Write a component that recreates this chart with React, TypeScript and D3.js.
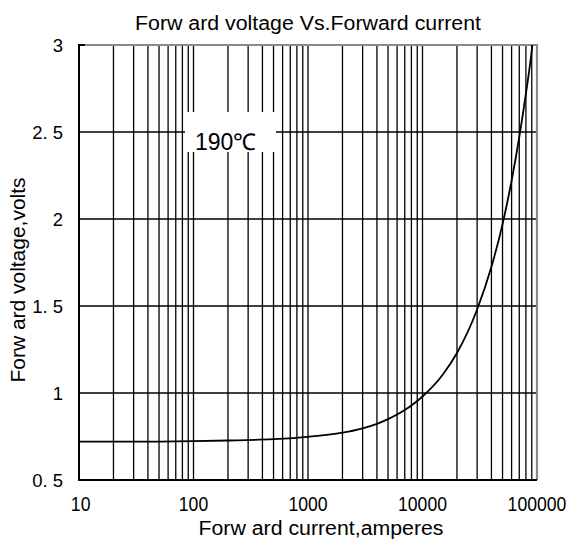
import React, { useRef, useEffect } from "react";
import * as d3 from "d3";

// forward current (A) vs forward voltage (V)
const currents = [
  10, 20, 50, 100, 200, 500, 1000, 2000, 3000, 4000, 5000, 6000, 7000, 8000,
  10000, 15000, 20000, 30000, 40000, 50000, 60000, 70000, 80000, 90000, 91000,
];
const voltages = [
  0.72, 0.72, 0.721, 0.723, 0.727, 0.735, 0.748, 0.772, 0.797, 0.823, 0.85,
  0.876, 0.902, 0.928, 0.98, 1.105, 1.23, 1.48, 1.725, 1.97, 2.22, 2.47, 2.72,
  2.97, 3.0,
];
const xTickValues = [10, 100, 1000, 10000, 100000];
const xTickLabels = ["10", "100", "1000", "10000", "100000"];
const yTickValues = [0.5, 1, 1.5, 2, 2.5, 3];
const yTickLabels = ["0. 5", "1", "1. 5", "2", "2. 5", "3"];
const title = "Forw ard voltage Vs.Forward current";
const xTitle = "Forw ard current,amperes";
const yTitle = "Forw ard voltage,volts";
const annotation = "190℃";

const WIDTH = 570;
const HEIGHT = 546;
const FONT = "'Liberation Sans', Arial, sans-serif";

export default function App() {
  const svgRef = useRef<SVGSVGElement>(null);

  useEffect(() => {
    if (!svgRef.current) return;
    const svg = d3.select(svgRef.current);
    svg.selectAll("*").remove();

    const left = 79;
    const right = 537;
    const top = 45;
    const bottom = 480;

    const x = d3.scaleLog().domain([10, 100000]).range([left, right]);
    const y = d3.scaleLinear().domain([0.5, 3]).range([bottom, top]);

    svg
      .append("rect")
      .attr("width", WIDTH)
      .attr("height", HEIGHT)
      .attr("fill", "#fff");

    // vertical grid (1..9 per decade)
    const minor: number[] = [];
    for (let d = 10; d < 100000; d *= 10) {
      for (let k = 1; k <= 9; k++) minor.push(d * k);
    }
    svg
      .append("g")
      .selectAll("line")
      .data(minor.filter((v) => v > 10))
      .join("line")
      .attr("x1", (d) => x(d))
      .attr("x2", (d) => x(d))
      .attr("y1", top)
      .attr("y2", bottom)
      .attr("stroke", "#000")
      .attr("stroke-width", 1.3);

    // horizontal grid
    svg
      .append("g")
      .selectAll("line")
      .data(yTickValues.filter((v) => v > 0.5 && v < 3))
      .join("line")
      .attr("x1", left)
      .attr("x2", right)
      .attr("y1", (d) => y(d))
      .attr("y2", (d) => y(d))
      .attr("stroke", "#000")
      .attr("stroke-width", 1.3);

    // frame: top/right grey, left/bottom black
    svg
      .append("path")
      .attr("d", `M${left},${top}H${right}V${bottom}`)
      .attr("fill", "none")
      .attr("stroke", "#8a8a8a")
      .attr("stroke-width", 2.2);
    svg
      .append("path")
      .attr("d", `M${left + 6},${top}H${left}V${bottom}H${right}`)
      .attr("fill", "none")
      .attr("stroke", "#000")
      .attr("stroke-width", 2);

    // curve
    const pts = currents.map((c, i) => [c, voltages[i]] as [number, number]);
    const line = d3
      .line<[number, number]>()
      .x((d) => x(d[0]))
      .y((d) => y(d[1]))
      .curve(d3.curveMonotoneX);
    svg
      .append("path")
      .attr("d", line(pts))
      .attr("fill", "none")
      .attr("stroke", "#000")
      .attr("stroke-width", 1.8);

    // annotation box
    svg
      .append("rect")
      .attr("x", 185)
      .attr("y", 112)
      .attr("width", 91)
      .attr("height", 40)
      .attr("fill", "#fff");
    svg
      .append("text")
      .attr("x", 195)
      .attr("y", 150)
      .style("font-family", FONT)
      .style("font-size", "23px")
      .text(annotation);

    // y tick labels
    svg
      .append("g")
      .selectAll("text")
      .data(yTickValues)
      .join("text")
      .attr("x", 63)
      .attr("y", (d) => y(d) + 7)
      .attr("text-anchor", "end")
      .style("font-family", FONT)
      .style("font-size", "18.5px")
      .text((_, i) => yTickLabels[i]);

    // x tick labels
    svg
      .append("g")
      .selectAll("text")
      .data(xTickValues)
      .join("text")
      .attr("x", (d) => x(d) + (d === 10 ? 2 : 0))
      .attr("y", 511)
      .attr("text-anchor", "middle")
      .attr("transform", (d) => `translate(${x(d)},0) scale(0.84,1) translate(${-x(d)},0)`)
      .style("font-family", FONT)
      .style("font-size", "21px")
      .text((_, i) => xTickLabels[i]);

    // titles
    svg
      .append("text")
      .attr("x", 308)
      .attr("y", 30)
      .attr("text-anchor", "middle")
      .attr("textLength", 346)
      .attr("lengthAdjust", "spacingAndGlyphs")
      .style("font-family", FONT)
      .style("font-size", "20px")
      .text(title);

    svg
      .append("text")
      .attr("x", 321)
      .attr("y", 535)
      .attr("text-anchor", "middle")
      .attr("textLength", 245)
      .attr("lengthAdjust", "spacingAndGlyphs")
      .style("font-family", FONT)
      .style("font-size", "20px")
      .text(xTitle);

    svg
      .append("text")
      .attr("transform", `translate(25,280) rotate(-90)`)
      .attr("text-anchor", "middle")
      .attr("textLength", 205)
      .attr("lengthAdjust", "spacingAndGlyphs")
      .style("font-family", FONT)
      .style("font-size", "20px")
      .text(yTitle);
  }, []);

  return (
    <svg
      ref={svgRef}
      width={WIDTH}
      height={HEIGHT}
      viewBox={`0 0 ${WIDTH} ${HEIGHT}`}
      style={{ position: "absolute", left: 0, top: 0, display: "block" }}
    />
  );
}
